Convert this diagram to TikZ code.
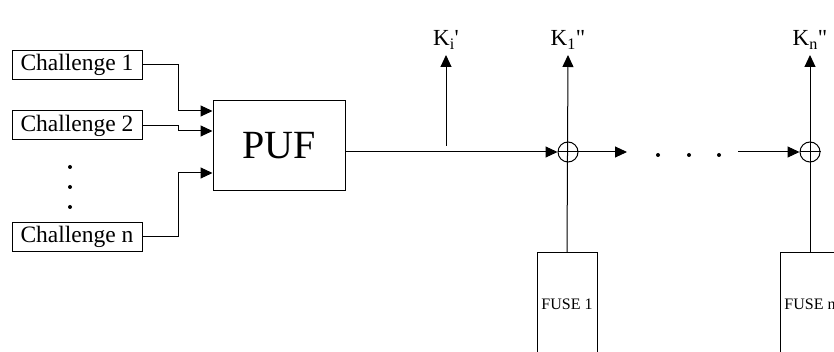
\documentclass[tikz,border=0pt]{standalone}
\usepackage{fontspec}
\setmainfont{Liberation Serif}
\usetikzlibrary{arrows.meta}

\begin{document}
\begin{tikzpicture}[x=1pt,y=-1pt,line width=1pt,
    arr/.style={-{Triangle[length=12pt,width=11pt]}},
    chbox/.style={draw,minimum width=130pt,minimum height=29pt,inner sep=0pt,font=\fontsize{23.5}{25}\selectfont},
    fusebox/.style={draw,minimum width=60pt,minimum height=102pt,inner sep=0pt,font=\fontsize{16}{18}\selectfont},
    xor/.style={draw,circle,minimum size=20pt,inner sep=0pt},
    klabel/.style={font=\fontsize{23}{25}\selectfont,inner sep=1pt}]
        \useasboundingbox (0,0) rectangle (834,352);
        \clip (0,0) rectangle (834,352);
        % inputs
        \node[chbox] (c1) at (77,65) {Challenge 1};
        \node[chbox] (c2) at (77,125.5) {Challenge 2};
        \node[chbox] (cn) at (77,237) {Challenge n};
        \foreach \y in {167,187,207} \fill (70,\y) circle (2pt);
        \node[draw,minimum width=132pt,minimum height=90pt,font=\fontsize{40}{42}\selectfont] (puf) at (279,146) {PUF};
        \draw[arr] (c1.east) -- ++(36,0) |- ([yshift=35pt]puf.west);
        \draw[arr] (c2.east) -- ++(36,0) |- ([yshift=15pt]puf.west);
        \draw[arr] (cn.east) -- ++(36,0) |- ([yshift=-27pt]puf.west);

        % key chain
        \node[xor] (x1) at (568,152) {};
        \node[xor] (xn) at (810,152) {};
        \draw (x1.west) -- (x1.east);
        \draw (xn.west) -- (xn.east);
        \coordinate (ti) at (446,55);
        \coordinate (t1) at (568,55);
        \coordinate (tn) at (810,55);
        \node[klabel,above=4pt] at (ti) {K\textsubscript{i}\textquotesingle};
        \node[klabel,above=4pt] at (t1) {K\textsubscript{1}\textquotedbl};
        \node[klabel,above=4pt] at (tn) {K\textsubscript{n}\textquotedbl};
        \draw[arr] (puf.east |- x1) -- (x1.west);
        \draw[arr] (puf.east -| ti) -- (ti);
        \node[fusebox] (f1) at (567,304) {FUSE 1};
        \node[fusebox] (fn) at (810,304) {FUSE n};
        \draw[arr] (f1.north) -- (t1);
        \draw[arr] (fn.north) -- (tn);
        \coordinate (d1) at (627,152);
        \coordinate (d2) at (738,152);
        \draw[arr] (x1.east) -- (d1);
        \draw[arr] (d2) -- (xn.west);
        \foreach \x in {658,689,719} \fill (\x,155) circle (2pt);
\end{tikzpicture}
\end{document}
